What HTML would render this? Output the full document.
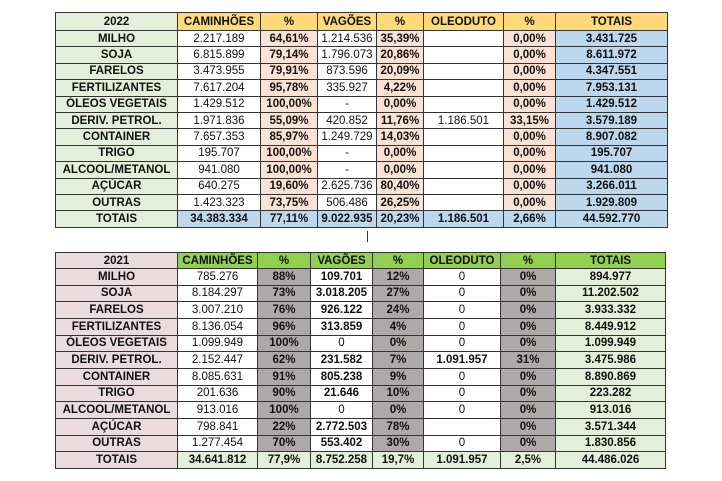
<!DOCTYPE html>
<html><head><meta charset="utf-8">
<style>
html,body{margin:0;padding:0;background:#fff;width:722px;height:481px;overflow:hidden;font-family:"Liberation Sans",Arial,sans-serif;}
table{position:absolute;border-collapse:collapse;table-layout:fixed;font-size:11.5px;}
td{border:1px solid #333;padding:0;text-align:center;white-space:nowrap;overflow:hidden;color:#111;line-height:14px;}
.b{font-weight:bold;}
#t1{left:55px;top:12px;}
#t1 tr{height:16.4px;}
#t1 tr.h{height:18px;}
#t1 .lab{background:#e2efda;font-weight:bold;}
#t1 .hd{background:#ffd97a;font-weight:bold;}
#t1 .p{background:#fbe2d5;font-weight:bold;}
#t1 .tot{background:#bdd7ee;font-weight:bold;}
#t2{left:55px;top:252px;}
#t2 tr{height:16.67px;}
#t2 tr.h{height:16px;}
#t2 .lab{background:#eadcde;font-weight:bold;}
#t2 .hd{background:#92d050;font-weight:bold;}
#t2 .p{background:#ada9a9;font-weight:bold;}
#t2 .tot{background:#e2efda;font-weight:bold;}
#sep{position:absolute;left:367px;top:231px;width:1px;height:11px;background:#333;}
</style></head><body>
<table id="t1">
<colgroup><col style="width:122px"><col style="width:83px"><col style="width:57px"><col style="width:59px"><col style="width:47px"><col style="width:80px"><col style="width:52px"><col style="width:112px"></colgroup>
<tr class="h"><td class="lab">2022</td><td class="hd">CAMINHÕES</td><td class="hd">%</td><td class="hd">VAGÕES</td><td class="hd">%</td><td class="hd">OLEODUTO</td><td class="hd">%</td><td class="hd">TOTAIS</td></tr>
<tr><td class="lab">MILHO</td><td>2.217.189</td><td class="p">64,61%</td><td>1.214.536</td><td class="p">35,39%</td><td></td><td class="p">0,00%</td><td class="tot">3.431.725</td></tr>
<tr><td class="lab">SOJA</td><td>6.815.899</td><td class="p">79,14%</td><td>1.796.073</td><td class="p">20,86%</td><td></td><td class="p">0,00%</td><td class="tot">8.611.972</td></tr>
<tr><td class="lab">FARELOS</td><td>3.473.955</td><td class="p">79,91%</td><td>873.596</td><td class="p">20,09%</td><td></td><td class="p">0,00%</td><td class="tot">4.347.551</td></tr>
<tr><td class="lab">FERTILIZANTES</td><td>7.617.204</td><td class="p">95,78%</td><td>335.927</td><td class="p">4,22%</td><td></td><td class="p">0,00%</td><td class="tot">7.953.131</td></tr>
<tr><td class="lab">ÓLEOS VEGETAIS</td><td>1.429.512</td><td class="p">100,00%</td><td>-</td><td class="p">0,00%</td><td></td><td class="p">0,00%</td><td class="tot">1.429.512</td></tr>
<tr><td class="lab">DERIV. PETROL.</td><td>1.971.836</td><td class="p">55,09%</td><td>420.852</td><td class="p">11,76%</td><td>1.186.501</td><td class="p">33,15%</td><td class="tot">3.579.189</td></tr>
<tr><td class="lab">CONTAINER</td><td>7.657.353</td><td class="p">85,97%</td><td>1.249.729</td><td class="p">14,03%</td><td></td><td class="p">0,00%</td><td class="tot">8.907.082</td></tr>
<tr><td class="lab">TRIGO</td><td>195.707</td><td class="p">100,00%</td><td>-</td><td class="p">0,00%</td><td></td><td class="p">0,00%</td><td class="tot">195.707</td></tr>
<tr><td class="lab">ALCOOL/METANOL</td><td>941.080</td><td class="p">100,00%</td><td>-</td><td class="p">0,00%</td><td></td><td class="p">0,00%</td><td class="tot">941.080</td></tr>
<tr><td class="lab">AÇÚCAR</td><td>640.275</td><td class="p">19,60%</td><td>2.625.736</td><td class="p">80,40%</td><td></td><td class="p">0,00%</td><td class="tot">3.266.011</td></tr>
<tr><td class="lab">OUTRAS</td><td>1.423.323</td><td class="p">73,75%</td><td>506.486</td><td class="p">26,25%</td><td></td><td class="p">0,00%</td><td class="tot">1.929.809</td></tr>
<tr><td class="lab">TOTAIS</td><td class="tot">34.383.334</td><td class="tot">77,11%</td><td class="tot">9.022.935</td><td class="tot">20,23%</td><td class="tot">1.186.501</td><td class="tot">2,66%</td><td class="tot">44.592.770</td></tr>
</table>
<div id="sep"></div>
<table id="t2">
<colgroup><col style="width:122px"><col style="width:80px"><col style="width:53px"><col style="width:62px"><col style="width:51px"><col style="width:77px"><col style="width:55px"><col style="width:110px"></colgroup>
<tr class="h"><td class="lab">2021</td><td class="hd">CAMINHÕES</td><td class="hd">%</td><td class="hd">VAGÕES</td><td class="hd">%</td><td class="hd">OLEODUTO</td><td class="hd">%</td><td class="hd">TOTAIS</td></tr>
<tr><td class="lab">MILHO</td><td>785.276</td><td class="p">88%</td><td class="b">109.701</td><td class="p">12%</td><td>0</td><td class="p">0%</td><td class="tot">894.977</td></tr>
<tr><td class="lab">SOJA</td><td>8.184.297</td><td class="p">73%</td><td class="b">3.018.205</td><td class="p">27%</td><td>0</td><td class="p">0%</td><td class="tot">11.202.502</td></tr>
<tr><td class="lab">FARELOS</td><td>3.007.210</td><td class="p">76%</td><td class="b">926.122</td><td class="p">24%</td><td>0</td><td class="p">0%</td><td class="tot">3.933.332</td></tr>
<tr><td class="lab">FERTILIZANTES</td><td>8.136.054</td><td class="p">96%</td><td class="b">313.859</td><td class="p">4%</td><td>0</td><td class="p">0%</td><td class="tot">8.449.912</td></tr>
<tr><td class="lab">ÓLEOS VEGETAIS</td><td>1.099.949</td><td class="p">100%</td><td>0</td><td class="p">0%</td><td>0</td><td class="p">0%</td><td class="tot">1.099.949</td></tr>
<tr><td class="lab">DERIV. PETROL.</td><td>2.152.447</td><td class="p">62%</td><td class="b">231.582</td><td class="p">7%</td><td class="b">1.091.957</td><td class="p">31%</td><td class="tot">3.475.986</td></tr>
<tr><td class="lab">CONTAINER</td><td>8.085.631</td><td class="p">91%</td><td class="b">805.238</td><td class="p">9%</td><td>0</td><td class="p">0%</td><td class="tot">8.890.869</td></tr>
<tr><td class="lab">TRIGO</td><td>201.636</td><td class="p">90%</td><td class="b">21.646</td><td class="p">10%</td><td>0</td><td class="p">0%</td><td class="tot">223.282</td></tr>
<tr><td class="lab">ALCOOL/METANOL</td><td>913.016</td><td class="p">100%</td><td>0</td><td class="p">0%</td><td>0</td><td class="p">0%</td><td class="tot">913.016</td></tr>
<tr><td class="lab">AÇÚCAR</td><td>798.841</td><td class="p">22%</td><td class="b">2.772.503</td><td class="p">78%</td><td></td><td class="p">0%</td><td class="tot">3.571.344</td></tr>
<tr><td class="lab">OUTRAS</td><td>1.277.454</td><td class="p">70%</td><td class="b">553.402</td><td class="p">30%</td><td>0</td><td class="p">0%</td><td class="tot">1.830.856</td></tr>
<tr><td class="lab">TOTAIS</td><td class="tot">34.641.812</td><td class="tot">77,9%</td><td class="tot">8.752.258</td><td class="tot">19,7%</td><td class="tot">1.091.957</td><td class="tot">2,5%</td><td class="tot">44.486.026</td></tr>
</table>
</body></html>
